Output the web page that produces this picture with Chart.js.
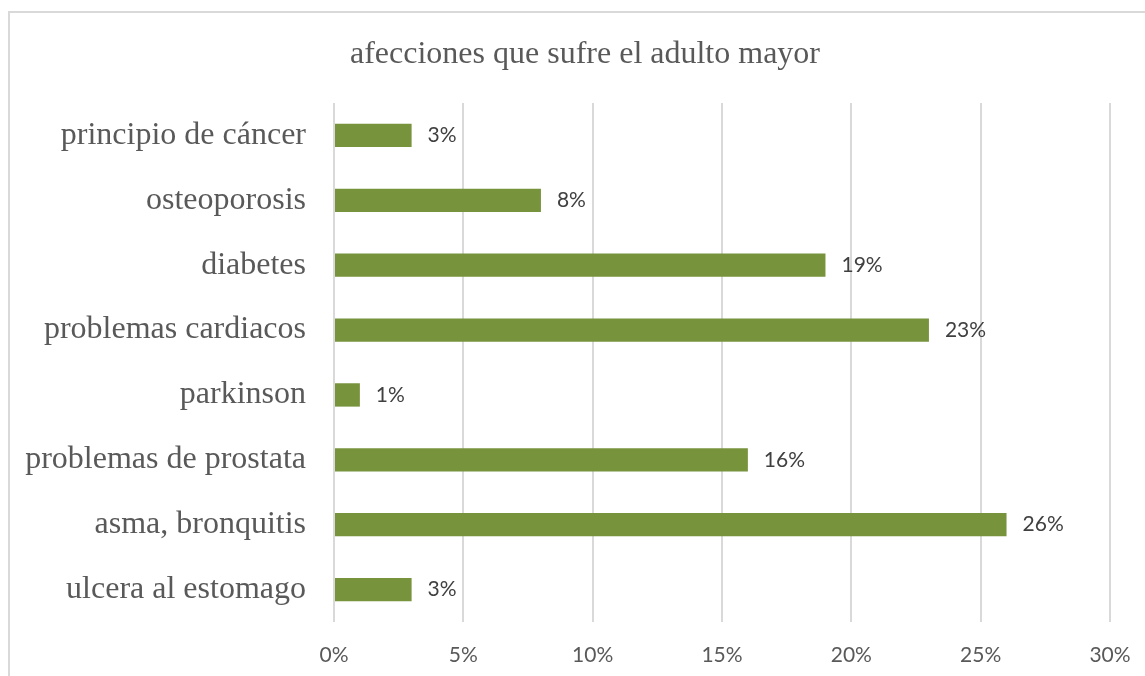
<!DOCTYPE html>
<html>
<head>
<meta charset="utf-8">
<script src="https://cdn.jsdelivr.net/npm/chart.js@4"></script>
<style>
  html, body { margin: 0; padding: 0; background: #fff; overflow: hidden; }
  #frame {
    position: absolute; left: 8px; top: 11px; width: 1200px; height: 720px;
    border: 2px solid #d9d9d9; box-sizing: border-box;
  }
  #chart { position: absolute; left: 0; top: 0; }
</style>
</head>
<body>
<div id="frame"></div>
<canvas id="chart" width="1145" height="676"></canvas>
<script>
// afecciones, de arriba hacia abajo
const afecciones = [
  'principio de cáncer',
  'osteoporosis',
  'diabetes',
  'problemas cardiacos',
  'parkinson',
  'problemas de prostata',
  'asma, bronquitis',
  'ulcera al estomago',
];
const porcentajes = [3, 8, 19, 23, 1, 16, 26, 3];
const ticksX = [0, 5, 10, 15, 20, 25, 30];
const titulo = 'afecciones que sufre el adulto mayor';

const textColor = '#595959';

// título centrado sobre el marco del gráfico
const chartTitle = {
  id: 'chartTitle',
  afterDraw(chart) {
    const ctx = chart.ctx;
    ctx.save();
    ctx.font = '32px "Liberation Serif"';
    ctx.fillStyle = textColor;
    ctx.textAlign = 'center';
    ctx.textBaseline = 'middle';
    ctx.fillText(titulo, 585, 55);
    ctx.restore();
  }
};

// etiqueta de valor a la derecha de cada barra
const valueLabels = {
  id: 'valueLabels',
  afterDatasetsDraw(chart) {
    const ctx = chart.ctx;
    const meta = chart.getDatasetMeta(0);
    ctx.save();
    ctx.font = '21px Lato';
    ctx.fillStyle = '#404040';
    ctx.textAlign = 'left';
    ctx.textBaseline = 'middle';
    meta.data.forEach((bar, i) => {
      ctx.fillText(porcentajes[i] + '%', bar.x + 16, bar.y);
    });
    ctx.restore();
  }
};

new Chart(document.getElementById('chart'), {
  type: 'bar',
  data: {
    labels: afecciones,
    datasets: [{
      data: porcentajes,
      backgroundColor: '#77933C',
      categoryPercentage: 1,
      barPercentage: 0.36,
    }],
  },
  options: {
    indexAxis: 'y',
    responsive: false,
    animation: false,
    layout: { padding: { left: 0, right: 35, top: 103, bottom: 0 } },
    plugins: {
      legend: { display: false },
      tooltip: { enabled: false },
      title: { display: false },
    },
    scales: {
      x: {
        min: 0,
        max: 30,
        afterBuildTicks(scale) {
          scale.ticks = ticksX.map(v => ({ value: v }));
        },
        afterFit(scale) {
          scale.height = 676 - 622;
          scale.paddingLeft = 0;
          scale.paddingRight = 0;
        },
        grid: { color: '#d9d9d9', lineWidth: 2, drawTicks: false },
        border: { display: false },
        ticks: {
          color: textColor,
          padding: 21,
          font: { family: 'Lato', size: 21 },
          callback: v => v + '%',
        },
      },
      y: {
        afterFit(scale) { scale.width = 334; },
        grid: { display: false },
        border: { display: false },
        ticks: {
          color: textColor,
          padding: 20,
          font: { family: 'Liberation Serif', size: 32 },
        },
      },
    },
  },
  plugins: [valueLabels, chartTitle],
});
</script>
</body>
</html>
